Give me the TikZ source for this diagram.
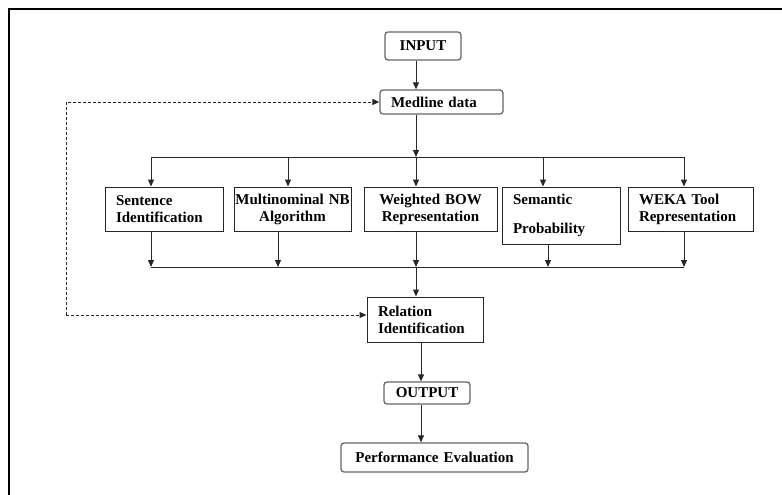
\documentclass[tikz,border=0pt]{standalone}
\usepackage{fontspec}
\setmainfont{Liberation Serif}
\usetikzlibrary{arrows.meta,calc}
\tikzset{
  blk/.style  ={draw=black!85,line width=1pt,inner xsep=11pt,inner ysep=0pt,align=left,
                font=\fontsize{15}{17}\selectfont\bfseries},
  rbox/.style ={blk,rounded corners=3pt,draw=black!60,line width=1.3pt},
  pbox/.style ={blk},
  ctr/.style  ={align=center,inner xsep=0pt},
  wire/.style ={line width=1pt,draw=black!85},
  flow/.style ={wire,-{Triangle[length=7pt,width=6pt]}},
  fbk/.style  ={flow,dash pattern=on 3pt off 2pt},
}

\begin{document}
\begin{tikzpicture}[x=1pt,y=-1pt]
  \useasboundingbox (0,0) rectangle (782,495);
  \draw[line width=2.5pt] (9,495) -- (9,9) -- (782,9);

  \node[rbox,ctr,text width=76pt,minimum height=28pt]  (inp)  at (423,46)      {INPUT};
  \node[rbox,text width=101pt,minimum height=24pt]     (med)  at (441.5,102)   {Medline data};
  \node[pbox,text width=96pt,minimum height=44pt]      (sent) at (164,209)     {Sentence\\Identification};
  \node[pbox,ctr,text width=117pt,minimum height=44pt] (mnb)  at (292.5,209)   {Multinominal NB\\Algorithm};
  \node[pbox,ctr,text width=133pt,minimum height=44pt] (bow)  at (430.5,209)   {Weighted BOW\\Representation};
  \node[pbox,text width=96pt,minimum height=57pt]      (sem)  at (561,215.5)   {Semantic\\[12pt]Probability};
  \node[pbox,text width=103pt,minimum height=44pt]     (weka) at (690.5,209)   {WEKA Tool\\Representation};
  \node[pbox,text width=94pt,minimum height=45pt]      (rel)  at (425,319.5)   {Relation\\Identification};
  \node[rbox,ctr,text width=86pt,minimum height=22pt]  (out)  at (427,393)     {OUTPUT};
  \node[rbox,ctr,text width=187pt,minimum height=29pt] (perf) at (434.5,457.5) {Performance Evaluation};

  % fan out
  \foreach \n/\x [count=\i] in {sent/151,mnb/288,bow/416,sem/543,weka/684} {
    \coordinate (t\i) at (\x,157);
    \draw[flow] (t\i) -- (t\i |- \n.north);
  }
  \draw[wire] (t1) -- (t5);
  \draw[flow] (inp.south -| t3) -- (t3 |- med.north);
  \draw[flow] (med.south -| t3) -- (t3);

  % fan in
  \foreach \n/\x [count=\i] in {sent/151,mnb/278,bow/416,sem/548,weka/684} {
    \coordinate (b\i) at (\x,267);
    \draw[flow] (\n.south -| b\i) -- (b\i);
  }
  \draw[wire] (b1) -- (b5);
  \draw[flow] (b3) -- (b3 |- rel.north);

  \coordinate (ax) at (421,360);
  \draw[flow] (rel.south -| ax) -- (ax |- out.north);
  \draw[flow] (out.south -| ax) -- (ax |- perf.north);

  % feedback loop
  \coordinate (fb) at (66,315);
  \draw[fbk] (fb) |- (med.west);
  \draw[fbk] (fb) -- (fb -| rel.west);
\end{tikzpicture}
\end{document}
